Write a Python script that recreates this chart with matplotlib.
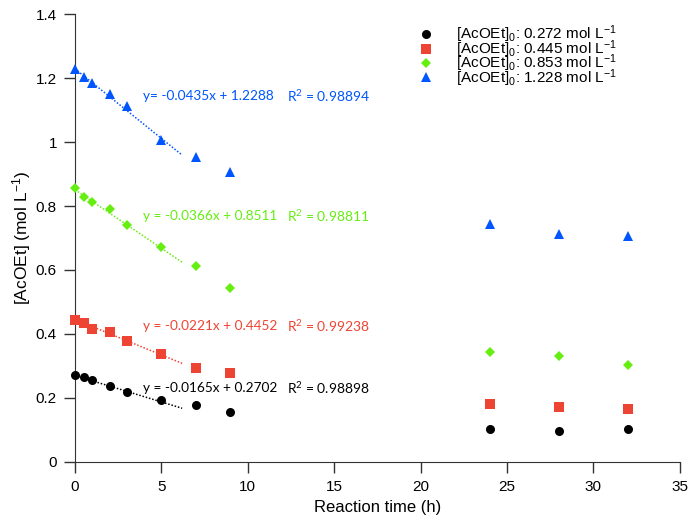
import numpy as np
import matplotlib
matplotlib.use('Agg')
import matplotlib.pyplot as plt

plt.rcParams['font.family'] = ['Liberation Sans', 'DejaVu Sans']
plt.rcParams['mathtext.default'] = 'regular'

# tiempos de reaccion (h)
t = [0, 0.5, 1, 2, 3, 5, 7, 9, 24, 28, 32]

# concentraciones de AcOEt (mol/L) para cada concentracion inicial
c_0272 = [0.272, 0.266, 0.256, 0.238, 0.219, 0.194, 0.178, 0.156, 0.103, 0.098, 0.103]
c_0445 = [0.444, 0.434, 0.416, 0.406, 0.378, 0.338, 0.294, 0.278, 0.181, 0.172, 0.165]
c_0853 = [0.856, 0.828, 0.813, 0.790, 0.740, 0.672, 0.613, 0.544, 0.344, 0.331, 0.303]
c_1228 = [1.228, 1.203, 1.184, 1.150, 1.112, 1.006, 0.953, 0.906, 0.744, 0.712, 0.706]

etiquetas = ['0.272', '0.445', '0.853', '1.228']

# ajustes lineales (pendiente, ordenada, R2)
ajustes = [(-0.0165, 0.2702, '0.98898'),
           (-0.0221, 0.4452, '0.99238'),
           (-0.0366, 0.8511, '0.98811'),
           (-0.0435, 1.2288, '0.98894')]
texto_y = [0.232, 0.425, 0.77, 1.144]

series = [c_0272, c_0445, c_0853, c_1228]
colores = ['#000000', '#EE4433', '#66EE11', '#0055FF']
marcadores = ['o', 's', 'D', '^']
tamanos = [6.5, 7, 5, 7]

fig = plt.figure(figsize=(6.88, 5.17), dpi=100)
ax = fig.add_axes([0.109, 0.1064, 0.879, 0.8665])

for y, col, m, ms, lab in zip(series, colores, marcadores, tamanos, etiquetas):
    ax.plot(t, y, linestyle='none', marker=m, color=col, markersize=ms,
            markeredgewidth=0, label='[AcOEt]$_0$: ' + lab + ' mol L$^{-1}$',
            clip_on=False, zorder=3)

xx = np.linspace(0, 6.2, 50)
for (a, b, r2), col, ty in zip(ajustes, colores, texto_y):
    ax.plot(xx, a * xx + b, linestyle=(0, (1, 1.2)), color=col, linewidth=1.1)
    if col == '#0055FF':
        eq = 'y= %.4fx + %.4f' % (a, b)
    else:
        eq = 'y = %.4fx + %.4f' % (a, b)
    ax.text(3.95, ty, eq, color=col, fontsize=9.8, family=['Lato', 'DejaVu Sans'],
            va='center')
    ax.text(12.25, ty, 'R$^2$ = ' + r2, color=col, fontsize=10,
            family=['Lato', 'DejaVu Sans'], va='center')

ax.set_xlim(0, 35)
ax.set_ylim(0, 1.4)
ax.set_xticks(range(0, 36, 5))
ax.set_yticks([0, 0.2, 0.4, 0.6, 0.8, 1.0, 1.2, 1.4])
ax.set_yticklabels(['0', '0.2', '0.4', '0.6', '0.8', '1', '1.2', '1.4'])
ax.spines['top'].set_visible(False)
ax.spines['right'].set_visible(False)
ax.spines['left'].set_color('#333333')
ax.spines['bottom'].set_color('#333333')
ax.tick_params(direction='out', length=8, width=1, labelsize=11, colors='#333333',
               labelcolor='black', pad=5)
ax.set_xlabel('Reaction time (h)', fontsize=12)
ax.xaxis.set_label_coords(0.5, -0.085)
ax.set_ylabel('[AcOEt] (mol L$^{-1}$)', fontsize=12.5)
ax.yaxis.set_label_coords(-0.07, 0.5)

ax.legend(loc='upper left', bbox_to_anchor=(0.555, 0.995), frameon=False,
          fontsize=11, labelspacing=-0.47, handletextpad=1.5, borderpad=0,
          handlelength=1.0)

fig.savefig('out.png', dpi=100)
